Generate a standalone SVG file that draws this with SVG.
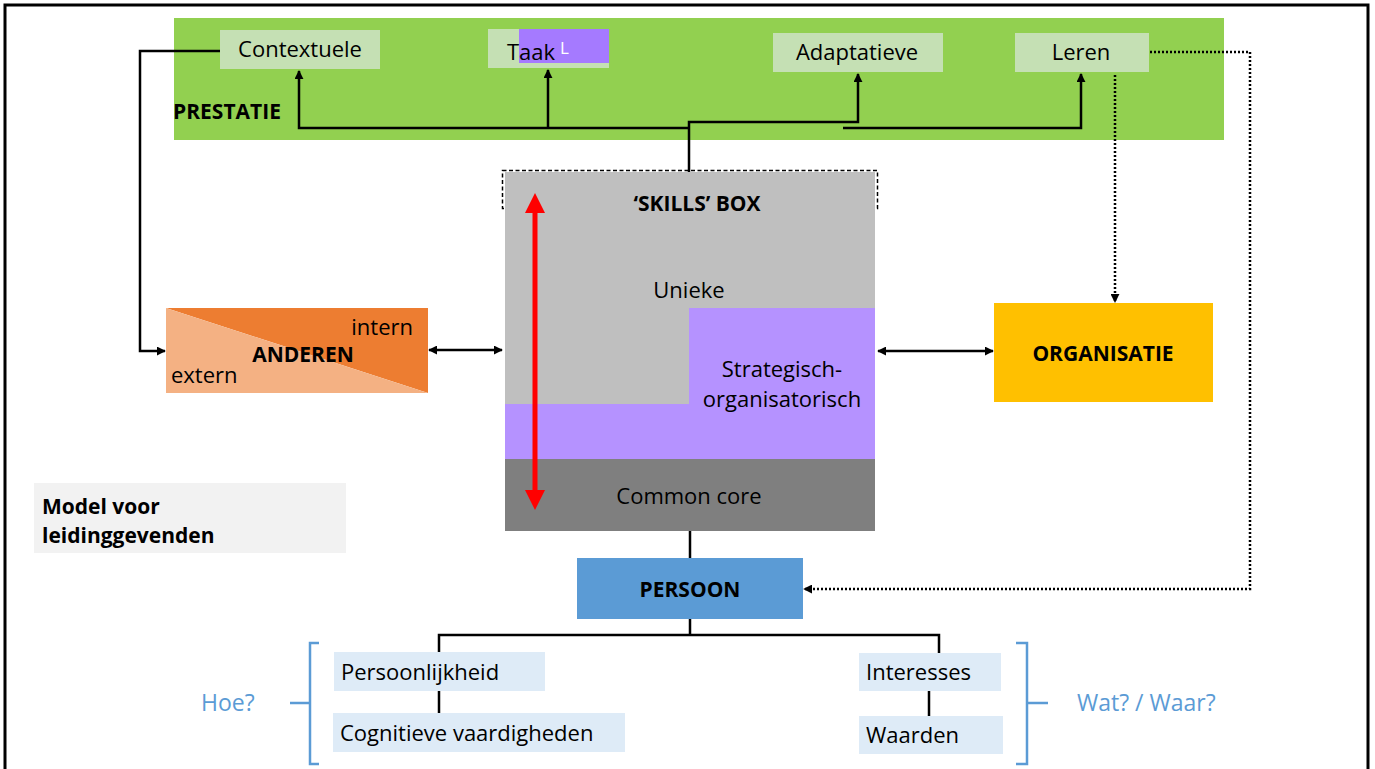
<svg xmlns="http://www.w3.org/2000/svg" width="1375" height="769" viewBox="0 0 1375 769">
<defs>
<style>
text{font-family:"Open Sans","Liberation Sans",sans-serif;font-size:22px;fill:#000}
.b{font-weight:bold;font-size:21px}
.c{text-anchor:middle}
.blue{fill:#5B9BD5;font-size:23px}
.ln{fill:none;stroke:#000;stroke-width:2.5}
.dot{fill:none;stroke:#000;stroke-width:2.5;stroke-dasharray:2 2}
.brace{fill:none;stroke:#5B9BD5;stroke-width:2.5}
</style>
<marker id="ah" viewBox="0 0 10 10" refX="9" refY="5" markerWidth="9" markerHeight="9" markerUnits="userSpaceOnUse" orient="auto-start-reverse">
<path d="M0,0 L10,5 L0,10 Z" fill="#000"/>
</marker>
</defs>
<rect x="0" y="0" width="1375" height="769" fill="#fff"/>
<path d="M5,769 V5 H1368 V769" fill="none" stroke="#000" stroke-width="3"/>

<g id="prestatie">
<rect x="174" y="18" width="1050" height="122" fill="#92D050"/>
<text class="b" x="173" y="119">PRESTATIE</text>
</g>
<g id="contextuele">
<rect x="220" y="30" width="160" height="39" fill="#C5E0B4"/>
<text class="c" x="300" y="57">Contextuele</text>
</g>
<g id="taak">
<rect x="488" y="29" width="121" height="39" fill="#C5E0B4"/>
<rect x="519" y="29" width="90" height="34" fill="#A57AFF"/>
<text x="507" y="60">Taak</text>
<text x="560" y="54" style="fill:#fff;font-size:17px">L</text>
</g>
<g id="adaptatieve">
<rect x="773" y="33" width="170" height="39" fill="#C5E0B4"/>
<text class="c" x="857" y="60">Adaptatieve</text>
</g>
<g id="leren">
<rect x="1015" y="33" width="134" height="39" fill="#C5E0B4"/>
<text class="c" x="1081" y="60">Leren</text>
</g>

<g id="skills">
<rect x="502.5" y="170.5" width="375" height="38" fill="none" stroke="#000" stroke-width="1.5" stroke-dasharray="4 2.5"/>
<rect x="505" y="172" width="370" height="288" fill="#BFBFBF"/>
<path d="M689,308 H875 V460 H505 V404 H689 Z" fill="#B592FF"/>
<rect x="505" y="459" width="370" height="72" fill="#7F7F7F"/>
<text class="b c" x="697" y="211">‘SKILLS’ BOX</text>
<text class="c" x="689" y="298">Unieke</text>
<text class="c" x="782" y="377">Strategisch-</text>
<text class="c" x="782" y="407">organisatorisch</text>
<text class="c" x="689" y="504">Common core</text>
<line x1="535" y1="210" x2="535" y2="493" stroke="#FF0000" stroke-width="5"/>
<path d="M535,193 L545,213 L525,213 Z" fill="#FF0000"/>
<path d="M535,510 L545,490 L525,490 Z" fill="#FF0000"/>
</g>

<g id="anderen">
<path d="M166,308 H428 V393 Z" fill="#ED7D31"/>
<path d="M166,308 L428,393 H166 Z" fill="#F4B183"/>
<text x="413" y="335" style="text-anchor:end">intern</text>
<text class="b c" x="303" y="362">ANDEREN</text>
<text x="171" y="383">extern</text>
</g>

<g id="organisatie">
<rect x="994" y="303" width="219" height="99" fill="#FFC000"/>
<text class="b c" x="1103" y="361">ORGANISATIE</text>
</g>

<g id="model">
<rect x="34" y="483" width="312" height="70" fill="#F2F2F2"/>
<text class="b" x="42" y="514">Model voor</text>
<text class="b" x="42" y="543">leidinggevenden</text>
</g>

<g id="persoon">
<rect x="577" y="558" width="226" height="61" fill="#5B9BD5"/>
<text class="b c" x="690" y="597">PERSOON</text>
</g>

<g id="persoonlijkheid">
<rect x="334" y="652" width="211" height="39" fill="#DEEBF7"/>
<text x="341" y="680">Persoonlijkheid</text>
</g>
<g id="cognitieve">
<rect x="333" y="713" width="292" height="39" fill="#DEEBF7"/>
<text x="340" y="741">Cognitieve vaardigheden</text>
</g>
<g id="interesses">
<rect x="859" y="653" width="142" height="38" fill="#DEEBF7"/>
<text x="866" y="680">Interesses</text>
</g>
<g id="waarden">
<rect x="859" y="716" width="144" height="38" fill="#DEEBF7"/>
<text x="866" y="743">Waarden</text>
</g>

<g id="hoe">
<path class="brace" d="M319,643 H310 V703 H290 M310,703 V764 H319"/>
<text class="blue" x="201" y="711">Hoe?</text>
</g>
<g id="watwaar">
<path class="brace" d="M1016,643 H1027 V703 H1048 M1027,703 V764 H1016"/>
<text class="blue" x="1077" y="711">Wat? / Waar?</text>
</g>

<g id="connectors">
<path class="ln" d="M689,172 V122 H858 V74" marker-end="url(#ah)"/>
<path class="ln" d="M689,128 H299 V71" marker-end="url(#ah)"/>
<path class="ln" d="M548,128 V70" marker-end="url(#ah)"/>
<path class="ln" d="M843,128 H1081 V74" marker-end="url(#ah)"/>
<path class="ln" d="M220,51 H140 V351 H165" marker-end="url(#ah)"/>
<line class="ln" x1="429" y1="350" x2="502" y2="350" marker-start="url(#ah)" marker-end="url(#ah)"/>
<line class="ln" x1="878" y1="351" x2="993" y2="351" marker-start="url(#ah)" marker-end="url(#ah)"/>
<path class="dot" d="M1115,75 V302" marker-end="url(#ah)"/>
<path class="dot" d="M1150,52 H1250 V589 H804" marker-end="url(#ah)"/>
<line class="ln" x1="690" y1="531" x2="690" y2="558"/>
<path class="ln" d="M690,619 V635 M439,652 V635 H939 V653"/>
<line class="ln" x1="439" y1="691" x2="439" y2="713"/>
<line class="ln" x1="929" y1="691" x2="929" y2="716"/>
</g>
</svg>
